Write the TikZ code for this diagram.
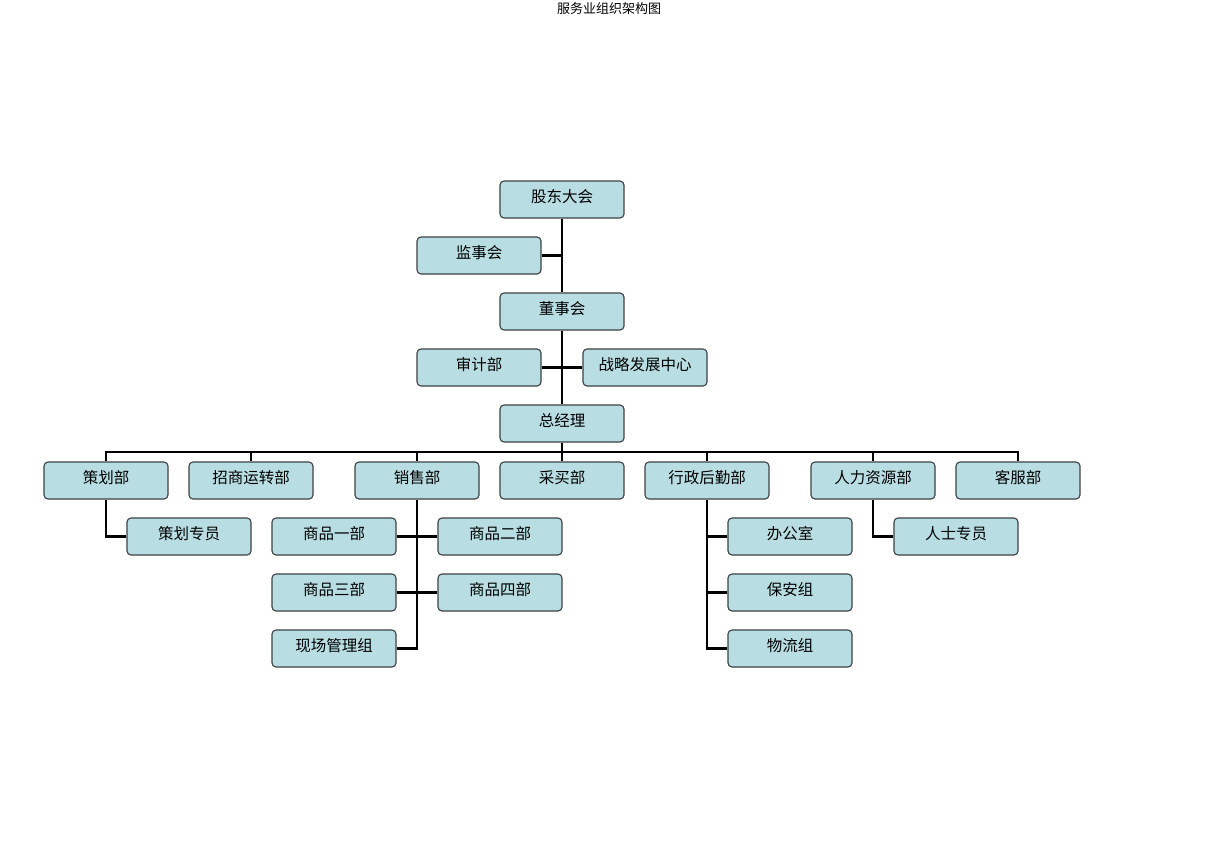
\documentclass[tikz,border=0pt]{standalone}
\usepackage{fontspec}
\newfontfamily\cjk{Noto Sans CJK SC}
\definecolor{boxfill}{RGB}{184,222,227}
\definecolor{boxline}{RGB}{60,64,66}
\tikzset{
  unit/.style={draw=boxline,fill=boxfill,line width=1.1pt,rounded corners=4pt,
    minimum width=124pt,minimum height=37pt,inner sep=0pt,text height=11pt,text depth=5pt,
    font=\cjk\fontsize{15.5}{15.5}\selectfont},
  link/.style={line width=2.6pt,black}
}
\begin{document}
\begin{tikzpicture}[x=1pt,y=-1pt]
  \useasboundingbox (0,0) rectangle (1218,860);
  \node[font=\cjk\fontsize{13}{13}\selectfont] (title) at (609,9) {服务业组织架构图};
  % top chain
  \node[unit] (gddh) at (562,199.5) {股东大会};
  \node[unit] (jsh) at (479,255.5) {监事会};
  \node[unit] (dsh) at (562,311.5) {董事会};
  \node[unit] (sjb) at (479,367.5) {审计部};
  \node[unit] (zlzx) at (645,367.5) {战略发展中心};
  \node[unit] (zjl) at (562,423.5) {总经理};
  % departments
  \node[unit] (chb) at (106,480.5) {策划部};
  \node[unit] (zsb) at (251,480.5) {招商运转部};
  \node[unit] (xsb) at (417,480.5) {销售部};
  \node[unit] (cmb) at (562,480.5) {采买部};
  \node[unit] (xzb) at (707,480.5) {行政后勤部};
  \node[unit] (rlb) at (873,480.5) {人力资源部};
  \node[unit] (kfb) at (1018,480.5) {客服部};
  % sub units
  \node[unit] (chzy) at (189,536.5) {策划专员};
  \node[unit] (sp1) at (334,536.5) {商品一部};
  \node[unit] (sp2) at (500,536.5) {商品二部};
  \node[unit] (sp3) at (334,592.5) {商品三部};
  \node[unit] (sp4) at (500,592.5) {商品四部};
  \node[unit] (xcgl) at (334,648.5) {现场管理组};
  \node[unit] (bgs) at (790,536.5) {办公室};
  \node[unit] (baz) at (790,592.5) {保安组};
  \node[unit] (wlz) at (790,648.5) {物流组};
  \node[unit] (rszy) at (956,536.5) {人士专员};
  \coordinate (bus) at (562,452);
  % connectors
  \draw[link] (gddh.south) -- (dsh.north);
  \draw[link] (jsh.east) -- (jsh.east -| gddh.south);
  \draw[link] (dsh.south) -- (zjl.north);
  \draw[link] (sjb.east) -- (zlzx.west);
  \draw[link] (zjl.south) -- (bus);
  \draw[link] (chb.north) |- (bus) -| (kfb.north);
  \foreach \d in {zsb,xsb,cmb,xzb,rlb}
    \draw[link] (\d.north) -- (\d.north |- bus);
  \draw[link] (chb.south) |- (chzy.west);
  \draw[link] (xsb.south) |- (xcgl.east);
  \draw[link] (sp1.east) -- (sp2.west);
  \draw[link] (sp3.east) -- (sp4.west);
  \draw[link] (xzb.south) |- (wlz.west);
  \draw[link] (bgs.west) -- (bgs.west -| xzb.south);
  \draw[link] (baz.west) -- (baz.west -| xzb.south);
  \draw[link] (rlb.south) |- (rszy.west);
\end{tikzpicture}
\end{document}
